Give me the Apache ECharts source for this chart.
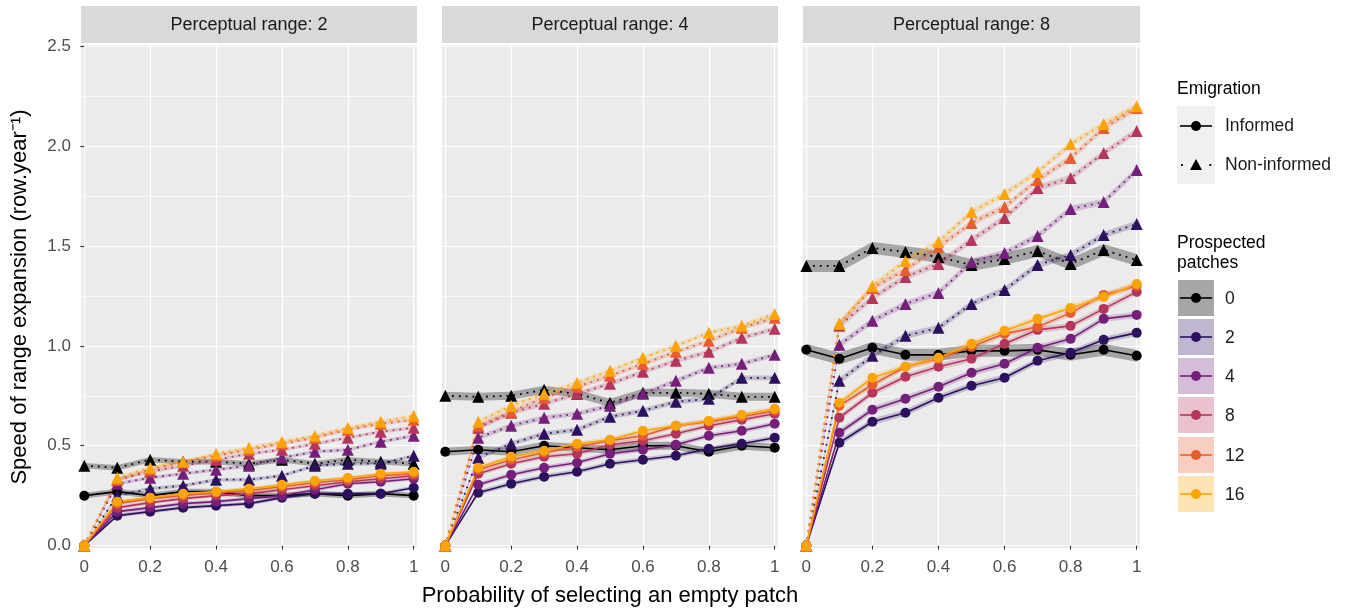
<!DOCTYPE html>
<html>
<head>
<meta charset="utf-8">
<script src="https://cdn.jsdelivr.net/npm/echarts@6/dist/echarts.min.js"></script>
<style>
html, body { margin: 0; padding: 0; background: #fff; }
#main { width: 1351px; height: 608px; }
</style>
</head>
<body>
<div id="main"></div>
<script>
var xs = [0, 0.1, 0.2, 0.3, 0.4, 0.5, 0.6, 0.7, 0.8, 0.9, 1];
var groups = ['0', '2', '4', '8', '12', '16'];
var colors = ['#000000', '#2c115f', '#74207a', '#b5365b', '#e65d2f', '#fba40a'];
var xTicks = [0, 0.2, 0.4, 0.6, 0.8, 1];
var yTicks = [0, 0.5, 1, 1.5, 2, 2.5];
var yMinor = [0.25, 0.75, 1.25, 1.75, 2.25];
var stripTitles = ['Perceptual range: 2', 'Perceptual range: 4', 'Perceptual range: 8'];

// one row per prospected-patch group, order as in groups
var pr2Informed = [
    [0.25, 0.27, 0.25, 0.27, 0.27, 0.25, 0.25, 0.26, 0.25, 0.26, 0.25],
    [0, 0.15, 0.17, 0.19, 0.20, 0.21, 0.24, 0.26, 0.26, 0.26, 0.29],
    [0, 0.17, 0.19, 0.21, 0.22, 0.235, 0.25, 0.28, 0.31, 0.32, 0.335],
    [0, 0.19, 0.215, 0.235, 0.25, 0.26, 0.28, 0.30, 0.32, 0.335, 0.35],
    [0, 0.21, 0.235, 0.25, 0.265, 0.275, 0.295, 0.315, 0.33, 0.35, 0.36],
    [0, 0.22, 0.24, 0.26, 0.27, 0.285, 0.305, 0.325, 0.34, 0.36, 0.37]
];
var pr2NonInformed = [
    [0.40, 0.39, 0.43, 0.42, 0.42, 0.41, 0.43, 0.41, 0.43, 0.42, 0.41],
    [0, 0.25, 0.285, 0.30, 0.33, 0.33, 0.35, 0.40, 0.41, 0.41, 0.45],
    [0, 0.31, 0.34, 0.36, 0.38, 0.40, 0.44, 0.47, 0.48, 0.52, 0.55],
    [0, 0.33, 0.37, 0.40, 0.43, 0.46, 0.48, 0.51, 0.54, 0.57, 0.59],
    [0, 0.33, 0.38, 0.42, 0.45, 0.48, 0.51, 0.54, 0.58, 0.61, 0.63],
    [0, 0.34, 0.39, 0.42, 0.46, 0.49, 0.52, 0.55, 0.59, 0.62, 0.65]
];
var pr4Informed = [
    [0.47, 0.48, 0.47, 0.50, 0.49, 0.48, 0.50, 0.50, 0.47, 0.50, 0.49],
    [0, 0.265, 0.31, 0.345, 0.37, 0.41, 0.43, 0.45, 0.485, 0.51, 0.54],
    [0, 0.305, 0.355, 0.39, 0.415, 0.46, 0.48, 0.505, 0.55, 0.575, 0.61],
    [0, 0.36, 0.41, 0.445, 0.46, 0.505, 0.525, 0.56, 0.60, 0.63, 0.66],
    [0, 0.38, 0.43, 0.465, 0.495, 0.525, 0.55, 0.60, 0.62, 0.645, 0.675],
    [0, 0.39, 0.445, 0.475, 0.51, 0.53, 0.575, 0.60, 0.625, 0.655, 0.685]
];
var pr4NonInformed = [
    [0.75, 0.745, 0.75, 0.78, 0.76, 0.715, 0.765, 0.765, 0.76, 0.745, 0.745],
    [0, 0.44, 0.51, 0.56, 0.58, 0.645, 0.675, 0.72, 0.735, 0.84, 0.84],
    [0, 0.54, 0.60, 0.64, 0.66, 0.70, 0.76, 0.825, 0.89, 0.91, 0.955],
    [0, 0.59, 0.665, 0.71, 0.76, 0.81, 0.87, 0.925, 0.97, 1.04, 1.085],
    [0, 0.60, 0.67, 0.74, 0.795, 0.85, 0.91, 0.97, 1.025, 1.09, 1.14],
    [0, 0.62, 0.70, 0.76, 0.815, 0.875, 0.94, 1.0, 1.065, 1.10, 1.16]
];
var pr8Informed = [
    [0.98, 0.935, 0.99, 0.955, 0.955, 0.975, 0.975, 0.98, 0.955, 0.98, 0.95],
    [0, 0.515, 0.62, 0.665, 0.74, 0.80, 0.84, 0.925, 0.965, 1.03, 1.065],
    [0, 0.565, 0.68, 0.735, 0.795, 0.865, 0.91, 0.99, 1.035, 1.135, 1.155],
    [0, 0.64, 0.765, 0.845, 0.895, 0.935, 1.01, 1.08, 1.10, 1.185, 1.27],
    [0, 0.70, 0.805, 0.895, 0.935, 0.995, 1.06, 1.095, 1.165, 1.255, 1.30],
    [0, 0.715, 0.84, 0.895, 0.94, 1.01, 1.075, 1.135, 1.19, 1.245, 1.31]
];
var pr8NonInformed = [
    [1.40, 1.40, 1.49, 1.47, 1.445, 1.405, 1.435, 1.475, 1.41, 1.48, 1.43],
    [0, 0.825, 0.95, 1.05, 1.09, 1.21, 1.28, 1.405, 1.455, 1.555, 1.61],
    [0, 1.005, 1.125, 1.21, 1.265, 1.42, 1.465, 1.55, 1.685, 1.72, 1.88],
    [0, 1.10, 1.24, 1.345, 1.41, 1.53, 1.64, 1.79, 1.84, 1.965, 2.075],
    [0, 1.11, 1.29, 1.38, 1.495, 1.615, 1.695, 1.83, 1.94, 2.09, 2.19],
    [0, 1.11, 1.30, 1.425, 1.52, 1.67, 1.76, 1.87, 2.01, 2.11, 2.20]
];

var informedByPanel = [pr2Informed, pr4Informed, pr8Informed];
var nonInformedByPanel = [pr2NonInformed, pr4NonInformed, pr8NonInformed];

var panelLeft = [81, 442, 803];
var panelWidth = [336, 336, 337];
var panelTop = 45, panelHeight = 503;
// band half-heights: black group / coloured groups, per panel
var blackHalf = [0.014, 0.02, 0.03];
var colourHalf = [0.009, 0.012, 0.016];
var font = 'Liberation Sans, Arial, sans-serif';

var grids = [], xAxes = [], yAxes = [], series = [], graphics = [];

function pairs(vals) {
    return xs.map(function (x, i) { return [x, vals[i]]; });
}

function hexToRgba(hex, a) {
    var n = parseInt(hex.slice(1), 16);
    return 'rgba(' + (n >> 16) + ',' + ((n >> 8) & 255) + ',' + (n & 255) + ',' + a + ')';
}

// confidence band drawn as one polygon through the axis scales
function addRibbon(p, vals, fill, half) {
    series.push({
        type: 'custom', xAxisIndex: p, yAxisIndex: p * 2, silent: true, z: 1,
        data: pairs(vals),
        renderItem: function (params, api) {
            if (params.dataIndex !== 0) return null;
            var upper = [], lower = [];
            for (var i = 0; i < xs.length; i++) {
                var h = vals[i] === 0 ? 0 : half;
                upper.push(api.coord([xs[i], vals[i] + h]));
                lower.unshift(api.coord([xs[i], vals[i] - h]));
            }
            return { type: 'polygon', shape: { points: upper.concat(lower) }, style: { fill: fill } };
        }
    });
}

for (var p = 0; p < 3; p++) {
    grids.push({
        left: panelLeft[p], top: panelTop, width: panelWidth[p], height: panelHeight,
        show: true, backgroundColor: '#ebebeb', borderWidth: 0
    });
    xAxes.push({
        type: 'value', gridIndex: p, min: -0.01, max: 1.01,
        axisLine: { show: false },
        axisTick: { show: true, length: 4, lineStyle: { color: '#333', width: 1.1 }, customValues: xTicks },
        axisLabel: { show: true, customValues: xTicks, color: '#4d4d4d', fontSize: 17, fontFamily: font, margin: 11 },
        splitLine: { show: true, lineStyle: { color: '#ffffff', width: 1.2 } }
    });
    yAxes.push({
        type: 'value', gridIndex: p, min: -0.012, max: 2.506,
        axisLine: { show: false },
        axisTick: { show: p === 0, length: 4, lineStyle: { color: '#333', width: 1.1 }, customValues: yTicks },
        axisLabel: {
            show: p === 0, customValues: yTicks, color: '#4d4d4d', fontSize: 17, fontFamily: font, margin: 10,
            formatter: function (v) { return v.toFixed(1); }
        },
        splitLine: { show: true, lineStyle: { color: '#ffffff', width: 1.2 } }
    });
    yAxes.push({
        type: 'value', gridIndex: p, min: -0.012, max: 2.506, position: 'left',
        axisLine: { show: false },
        axisTick: { show: false, customValues: yMinor },
        axisLabel: { show: false, customValues: yMinor },
        splitLine: { show: true, lineStyle: { color: '#ffffff', width: 0.6 } }
    });

    // strip
    graphics.push({
        type: 'rect', left: panelLeft[p], top: 6, silent: true,
        shape: { width: panelWidth[p], height: 37 }, style: { fill: '#d9d9d9' }
    });
    graphics.push({
        type: 'text', x: panelLeft[p] + panelWidth[p] / 2, y: 25, silent: true,
        style: { text: stripTitles[p], fill: '#1a1a1a', font: '18px ' + font, textAlign: 'center', textVerticalAlign: 'middle' }
    });

    var inf = informedByPanel[p], non = nonInformedByPanel[p];
    for (var g = 0; g < groups.length; g++) {
        var half = g === 0 ? blackHalf[p] : colourHalf[p];
        var fill = hexToRgba(colors[g], g === 0 ? 0.3 : 0.22);
        addRibbon(p, inf[g], fill, half);
        addRibbon(p, non[g], fill, half);
    }
    for (var g = 0; g < groups.length; g++) {
        series.push({
            name: 'Informed ' + groups[g], type: 'line', xAxisIndex: p, yAxisIndex: p * 2, z: 3,
            symbol: 'circle', symbolSize: 10, showAllSymbol: true,
            itemStyle: { color: colors[g] },
            lineStyle: { color: colors[g], width: 1.6, type: 'solid' },
            data: pairs(inf[g])
        });
        series.push({
            name: 'Non-informed ' + groups[g], type: 'line', xAxisIndex: p, yAxisIndex: p * 2, z: 3,
            symbol: 'triangle', symbolSize: 12, showAllSymbol: true,
            itemStyle: { color: colors[g] },
            lineStyle: { color: colors[g], width: 1.8, type: [1.8, 5], cap: 'butt' },
            data: pairs(non[g])
        });
    }
}

// axis titles
graphics.push({
    type: 'text', x: 610, y: 596, silent: true,
    style: { text: 'Probability of selecting an empty patch', fill: '#000', font: '22px ' + font, textAlign: 'center', textVerticalAlign: 'middle' }
});
graphics.push({
    type: 'text', x: 20, y: 297, rotation: Math.PI / 2, silent: true,
    style: { text: 'Speed of range expansion (row.year\u207B\u00B9)', fill: '#000', font: '22px ' + font, textAlign: 'center', textVerticalAlign: 'middle' }
});

// legend: emigration
var legendFont = '17.5px ' + font;
graphics.push({ type: 'text', x: 1177, y: 89, silent: true,
    style: { text: 'Emigration', fill: '#000', font: legendFont, textVerticalAlign: 'middle' } });
graphics.push({ type: 'rect', shape: { x: 1177, y: 106, width: 38, height: 78 }, silent: true, style: { fill: '#f0f0f0' } });
graphics.push({ type: 'line', shape: { x1: 1180, y1: 126, x2: 1212, y2: 126 }, silent: true, style: { stroke: '#000', lineWidth: 1.6 } });
graphics.push({ type: 'circle', shape: { cx: 1196, cy: 126, r: 5 }, silent: true, style: { fill: '#000' } });
graphics.push({ type: 'line', shape: { x1: 1181, y1: 165, x2: 1212, y2: 165 }, silent: true,
    style: { stroke: '#000', lineWidth: 1.8, lineDash: [1.8, 12.4] } });
graphics.push({ type: 'polygon', shape: { points: [[1196, 159], [1202, 170], [1190, 170]] }, silent: true, style: { fill: '#000' } });
graphics.push({ type: 'text', x: 1225, y: 126, silent: true,
    style: { text: 'Informed', fill: '#1a1a1a', font: legendFont, textVerticalAlign: 'middle' } });
graphics.push({ type: 'text', x: 1225, y: 165, silent: true,
    style: { text: 'Non-informed', fill: '#1a1a1a', font: legendFont, textVerticalAlign: 'middle' } });

// legend: prospected patches
graphics.push({ type: 'text', x: 1177, y: 243, silent: true,
    style: { text: 'Prospected', fill: '#000', font: legendFont, textVerticalAlign: 'middle' } });
graphics.push({ type: 'text', x: 1177, y: 263, silent: true,
    style: { text: 'patches', fill: '#000', font: legendFont, textVerticalAlign: 'middle' } });
var keyCenters = [298, 337, 376, 415, 455, 494];
for (var g = 0; g < groups.length; g++) {
    var cy = keyCenters[g];
    graphics.push({ type: 'rect', shape: { x: 1178, y: cy - 18, width: 36, height: 36 }, silent: true,
        style: { fill: hexToRgba(colors[g], g === 0 ? 0.35 : 0.3) } });
    graphics.push({ type: 'line', shape: { x1: 1180, y1: cy, x2: 1212, y2: cy }, silent: true,
        style: { stroke: colors[g], lineWidth: 1.6 } });
    graphics.push({ type: 'circle', shape: { cx: 1196, cy: cy, r: 5 }, silent: true, style: { fill: colors[g] } });
    graphics.push({ type: 'text', x: 1225, y: cy + 1, silent: true,
        style: { text: groups[g], fill: '#1a1a1a', font: legendFont, textVerticalAlign: 'middle' } });
}

var chart = echarts.init(document.getElementById('main'));
chart.setOption({
    animation: false,
    backgroundColor: '#ffffff',
    grid: grids,
    xAxis: xAxes,
    yAxis: yAxes,
    series: series,
    graphic: graphics
});
</script>
</body>
</html>
